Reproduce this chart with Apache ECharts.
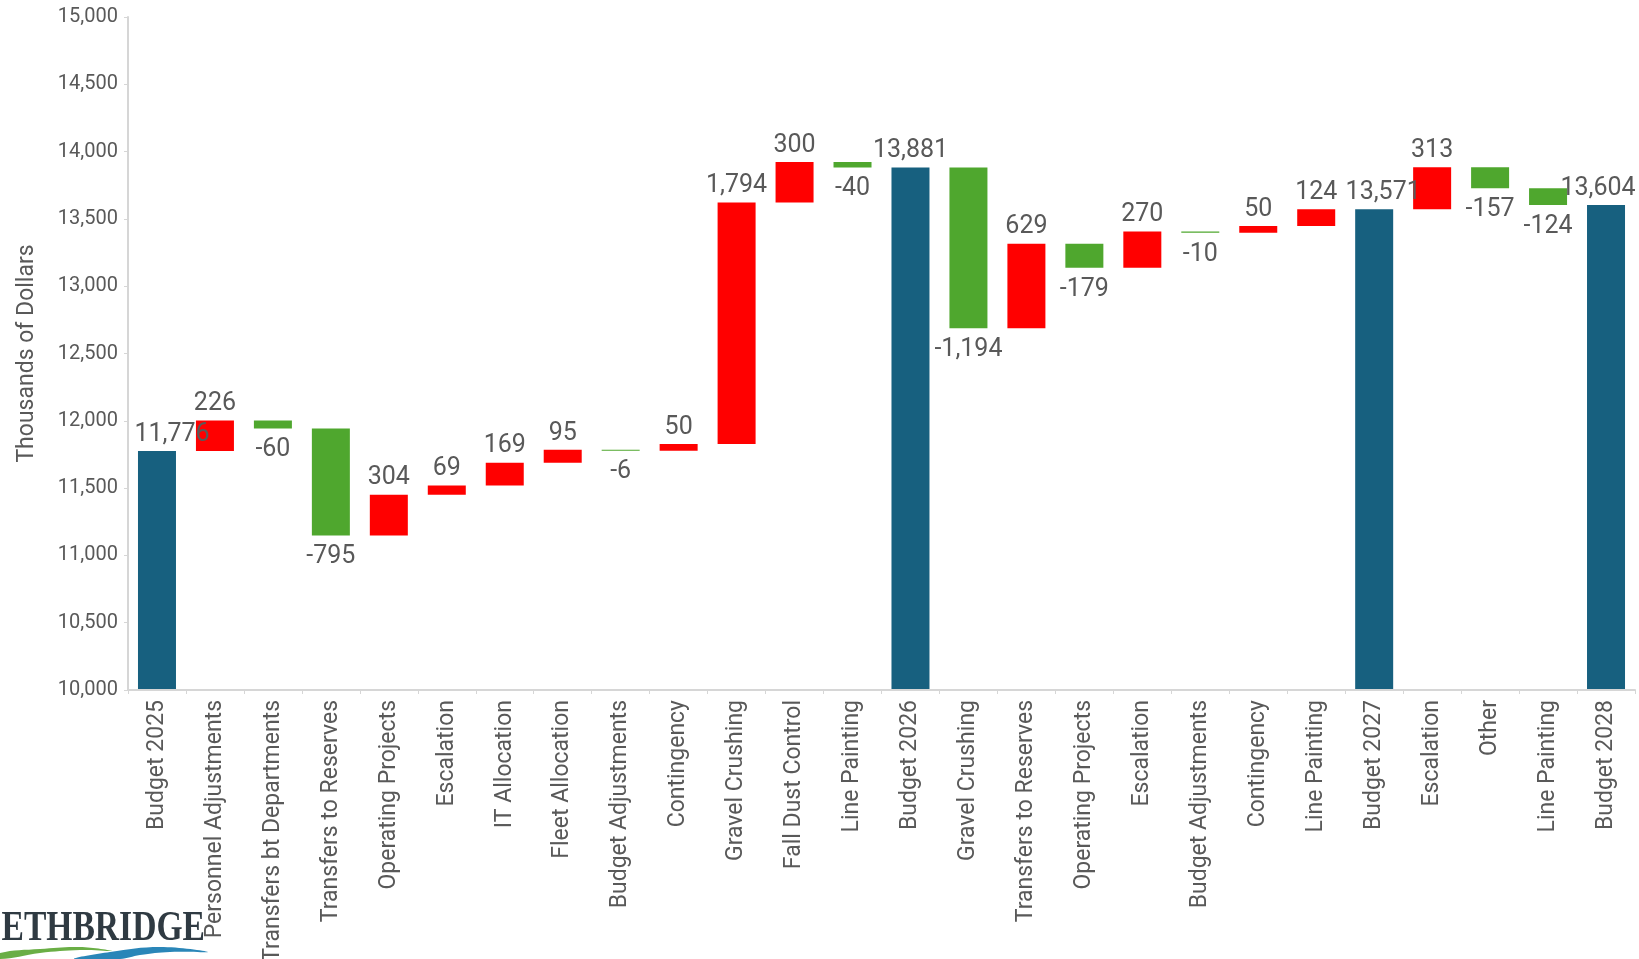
<!DOCTYPE html>
<html>
<head>
<meta charset="utf-8">
<title>Budget Waterfall 2025–2028</title>
<script src="https://cdn.jsdelivr.net/npm/echarts@6/dist/echarts.min.js"></script>
<style>
  html, body { margin: 0; padding: 0; background: #ffffff; }
  #chart { width: 1639px; height: 959px; }
</style>
</head>
<body>
<div id="chart"></div>
<script>
// Budget steps (thousands of dollars)
const categories = [
  'Budget 2025', 'Personnel Adjustments', 'Transfers bt Departments', 'Transfers to Reserves',
  'Operating Projects', 'Escalation', 'IT Allocation', 'Fleet Allocation', 'Budget Adjustments',
  'Contingency', 'Gravel Crushing', 'Fall Dust Control', 'Line Painting', 'Budget 2026',
  'Gravel Crushing', 'Transfers to Reserves', 'Operating Projects', 'Escalation',
  'Budget Adjustments', 'Contingency', 'Line Painting', 'Budget 2027', 'Escalation', 'Other',
  'Line Painting', 'Budget 2028'
];

// Totals carry the full budget; the other entries are changes
const changes = [
  11776, 226, -60, -795, 304, 69, 169, 95, -6, 50, 1794, 300, -40, 13881,
  -1194, 629, -179, 270, -10, 50, 124, 13571, 313, -157, -124, 13604
];

// Positions in the list that are budget totals
const totalIndexes = [0, 13, 21, 25];

const yTicks = { min: 10000, max: 15000, step: 500 };

const COLORS = { total: '#17607F', up: '#FF0000', down: '#4FA72E' };
const TEXT = '#595959';

const fmt = v => Number(v).toLocaleString('en-US');

// Build the invisible base and visible height of each step
const baseVals = [];
const heightVals = [];
let running = 0;
changes.forEach((v, i) => {
  if (totalIndexes.includes(i)) {
    baseVals.push(0);
    heightVals.push(v);
    running = v;
  } else if (v >= 0) {
    baseVals.push(running);
    heightVals.push(v);
    running += v;
  } else {
    baseVals.push(running + v);
    heightVals.push(-v);
    running += v;
  }
});

// Small horizontal nudges for the total labels
const totalLabelShift = { 0: 15, 21: 9, 25: -8 };

const visibleData = heightVals.map((h, i) => {
  const isTotal = totalIndexes.includes(i);
  const v = changes[i];
  const color = isTotal ? COLORS.total : (v >= 0 ? COLORS.up : COLORS.down);
  const below = !isTotal && v < 0;
  return {
    value: h,
    itemStyle: { color },
    label: {
      position: below ? 'bottom' : 'top',
      distance: below ? 9 : 4,
      offset: [totalLabelShift[i] || 0, 0]
    }
  };
});

const chart = echarts.init(document.getElementById('chart'), null, { renderer: 'canvas' });

chart.setOption({
  animation: false,
  backgroundColor: '#ffffff',
  textStyle: { fontFamily: 'Roboto, "Noto Sans", sans-serif' },
  grid: {
    left: 128, right: 4, top: 17, bottom: 269,
    containLabel: false,
    outerBoundsMode: 'none'
  },
  xAxis: {
    type: 'category',
    data: categories,
    axisLine: { show: true, lineStyle: { color: '#d6d6d6', width: 2 } },
    axisTick: { show: true, length: 4, lineStyle: { color: '#d6d6d6' } },
    axisLabel: {
      interval: 0,
      rotate: 90,
      margin: 10,
      color: TEXT,
      fontSize: 23,
      fontFamily: 'Roboto'
    },
    splitLine: { show: false },
    z: 5
  },
  yAxis: {
    type: 'value',
    min: yTicks.min,
    max: yTicks.max,
    interval: yTicks.step,
    name: 'Thousands of Dollars',
    nameLocation: 'middle',
    nameGap: 89,
    nameTextStyle: { color: TEXT, fontSize: 23, fontFamily: 'Roboto' },
    axisLine: { show: true, lineStyle: { color: '#d6d6d6', width: 2 } },
    axisTick: { show: true, length: 4, lineStyle: { color: '#d6d6d6' } },
    axisLabel: {
      color: TEXT,
      fontSize: 20,
      margin: 10,
      fontFamily: 'Roboto',
      formatter: v => fmt(v)
    },
    splitLine: { show: false }
  },
  series: [
    {
      name: 'base',
      type: 'bar',
      stack: 'waterfall',
      barWidth: 38,
      silent: true,
      itemStyle: { color: 'rgba(0,0,0,0)' },
      emphasis: { disabled: true },
      data: baseVals
    },
    {
      name: 'step',
      type: 'bar',
      stack: 'waterfall',
      barWidth: 38,
      emphasis: { disabled: true },
      label: {
        show: true,
        color: TEXT,
        fontSize: 25,
        fontFamily: 'Roboto',
        formatter: p => fmt(changes[p.dataIndex])
      },
      data: visibleData
    }
  ],
  graphic: [
    {
      // green swoosh of the logo
      type: 'polygon',
      shape: {
        points: [[0, 953], [40, 949], [80, 947], [112, 951], [80, 950], [40, 953], [0, 959]],
        smooth: 0.4
      },
      style: { fill: '#6AAE45' },
      silent: true
    },
    {
      // blue swoosh of the logo
      type: 'polygon',
      shape: {
        points: [[74, 959], [110, 952], [160, 947], [208, 952], [170, 952], [140, 955], [120, 959]],
        smooth: 0.4
      },
      style: { fill: '#2A86B8' },
      silent: true
    },
    {
      type: 'text',
      x: 205,
      y: 929,
      scaleX: 0.8,
      originX: 0,
      originY: 0,
      silent: true,
      style: {
        text: 'LETHBRIDGE',
        font: 'bold 42px "Liberation Serif", "DejaVu Serif", serif',
        fill: '#2F3A42',
        align: 'right',
        verticalAlign: 'middle'
      }
    }
  ]
});
</script>
</body>
</html>
